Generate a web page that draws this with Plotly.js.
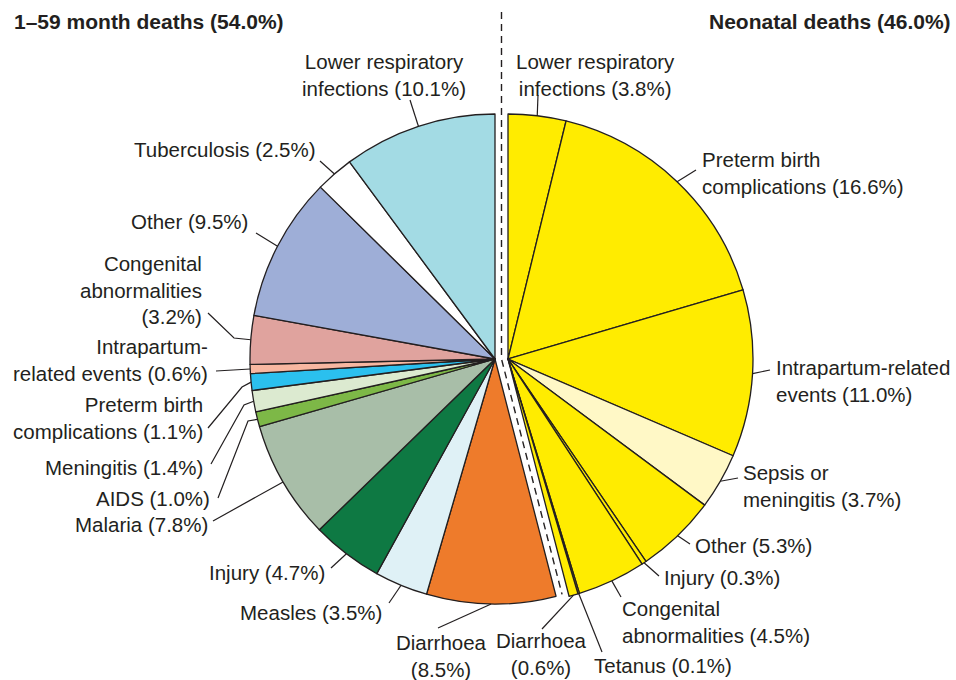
<!DOCTYPE html>
<html><head><meta charset="utf-8">
<script src="https://cdn.plot.ly/plotly-3.0.1.min.js"></script>
<style>html,body{margin:0;padding:0;background:#fff}#chart{width:956px;height:680px}</style>
</head><body><div id="chart"></div>
<script>
// ---- DATA ----
const groupTitles = ['1–59 month deaths (54.0%)', 'Neonatal deaths (46.0%)'];
const neoNames = ['Lower respiratory<br>infections', 'Preterm birth<br>complications', 'Intrapartum-related<br>events',
  'Sepsis or<br>meningitis', 'Other', 'Injury', 'Congenital<br>abnormalities', 'Tetanus', 'Diarrhoea<br>'];
const neoValues = [3.8, 16.6, 11.0, 3.7, 5.3, 0.3, 4.5, 0.1, 0.6];
const childNames = ['Diarrhoea<br>', 'Measles', 'Injury', 'Malaria', 'AIDS', 'Meningitis', 'Preterm birth<br>complications',
  'Intrapartum-<br>related events', 'Congenital<br>abnormalities<br>', 'Other', 'Tuberculosis', 'Lower respiratory<br>infections'];
const childValues = [8.5, 3.5, 4.7, 7.8, 1.0, 1.4, 1.1, 0.6, 3.2, 9.5, 2.5, 10.1];

// ---- STYLE / LAYOUT ----
const W = 956, H = 680, R = 245, CY = 359;
const neoCX = 508, childCX = 495;
const neoColors = ['#FFEC00', '#FFEC00', '#FFEC00', '#FFF8C6', '#FFEC00', '#FFEC00', '#FFEC00', '#FFEC00', '#FFEC00'];
const childColors = ['#EE7B2B', '#DFF1F6', '#0E7943', '#A8BEA8', '#7DB847', '#DCEAD0', '#2BC0EE', '#F8B7A1',
  '#E0A39E', '#9EAED7', '#FFFFFF', '#A3DBE4'];
const ink = '#231F20';
const FONT = 'Liberation Sans, Arial, Helvetica, sans-serif';
const FS = 20.5;
// label placement: [textX, textY, anchor, leader waypoints (from pie edge outward)]
const neoPlace = [
  [595, 75, 'center', [[538, 95]]],
  [700, 173, 'left', [[696, 170]]],
  [774, 381, 'left', [[770, 370]]],
  [741, 486, 'left', [[738, 478]]],
  [693, 545, 'left', [[690, 544]]],
  [662, 577, 'left', [[659, 576]]],
  [620, 622, 'left', [[621, 597]]],
  [592, 665, 'left', [[602, 652]]],
  [541, 654, 'center', [[542, 629]]]
];
const childPlace = [
  [441, 656, 'center', [[438, 628]]],
  [384, 612, 'right', [[389, 603]]],
  [327, 572, 'right', [[331, 568]]],
  [210, 524, 'right', [[213, 521]]],
  [212, 499, 'right', [[248, 421], [218, 498]]],
  [205, 467, 'right', [[244, 405], [211, 464]]],
  [205, 418, 'right', [[242, 387], [208, 428]]],
  [210, 360, 'right', [[216, 371]]],
  [204, 290, 'right', [[234, 338], [208, 313]]],
  [250, 222, 'right', [[256, 233]]],
  [318, 149, 'right', [[320, 161]]],
  [384, 75, 'center', [[410, 100]]]
];

const sum = a => a.reduce((s, v) => s + v, 0);
const neoTot = sum(neoValues), childTot = sum(childValues), TOT = neoTot + childTot;
const px = x => x / W, py = y => 1 - y / H;
const P = (x, y) => px(x) + ',' + py(y);
const labelText = (n, v) => n + (n.endsWith('<br>') ? '' : ' ') + '(' + v.toFixed(1) + '%)';

function pieTrace(values, colors, start, cx) {
  const vals = start === 0 ? values.concat([childTot]) : [neoTot].concat(values);
  const cols = start === 0 ? colors.concat(['rgba(0,0,0,0)']) : ['rgba(0,0,0,0)'].concat(colors);
  const lw = vals.map((v, i) => (start === 0 ? i === vals.length - 1 : i === 0) ? 0 : 1.3);
  const labs = vals.map((v, i) => 's' + i);
  return {
    type: 'pie', values: vals, labels: labs, sort: false, direction: 'clockwise', rotation: 0,
    marker: {colors: cols, line: {color: ink, width: lw}},
    textinfo: 'none', hoverinfo: 'skip', showlegend: false,
    domain: {x: [px(cx - R), px(cx + R)], y: [py(CY + R), py(CY - R)]}
  };
}

const shapes = [], annotations = [];
function addLabels(names, values, place, startVal, cx) {
  let cum = startVal;
  values.forEach((v, i) => {
    const mid = (cum + v / 2) / TOT * 2 * Math.PI;
    cum += v;
    const ex = cx + R * Math.sin(mid), ey = CY - R * Math.cos(mid);
    const [tx, ty, anc, pts] = place[i];
    let d = 'M' + P(ex, ey);
    pts.forEach(p => d += ' L' + P(p[0], p[1]));
    shapes.push({type: 'path', xref: 'paper', yref: 'paper', path: d, line: {color: ink, width: 1.2}});
    annotations.push({xref: 'paper', yref: 'paper', x: px(tx), y: py(ty), xanchor: anc, yanchor: 'middle',
      align: anc, showarrow: false, text: labelText(names[i], v), font: {family: FONT, size: FS, color: ink}});
  });
}
addLabels(neoNames, neoValues, neoPlace, 0, neoCX);
addLabels(childNames, childValues, childPlace, neoTot, childCX);

// dashed divider between groups
const mcx = (neoCX + childCX) / 2;
const bAng = neoTot / TOT * 2 * Math.PI;
shapes.push({type: 'path', xref: 'paper', yref: 'paper',
  path: 'M' + P(mcx, 12) + ' L' + P(mcx, CY) + ' L' + P(mcx + (R - 2) * Math.sin(bAng), CY - (R - 2) * Math.cos(bAng)),
  line: {color: ink, width: 1.4, dash: '7px,5px'}});

annotations.push({xref: 'paper', yref: 'paper', x: px(12), y: py(22), xanchor: 'left', yanchor: 'middle', showarrow: false,
  text: '<b>' + groupTitles[0] + '</b>', font: {family: FONT, size: 21, color: ink}});
annotations.push({xref: 'paper', yref: 'paper', x: px(953), y: py(22), xanchor: 'right', yanchor: 'middle', showarrow: false,
  text: '<b>' + groupTitles[1] + '</b>', font: {family: FONT, size: 21, color: ink}});

Plotly.newPlot('chart', [pieTrace(neoValues, neoColors, 0, neoCX), pieTrace(childValues, childColors, 1, childCX)], {
  width: W, height: H, margin: {l: 0, r: 0, t: 0, b: 0}, paper_bgcolor: '#fff',
  shapes: shapes, annotations: annotations, showlegend: false
}, {staticPlot: true});
</script></body></html>
